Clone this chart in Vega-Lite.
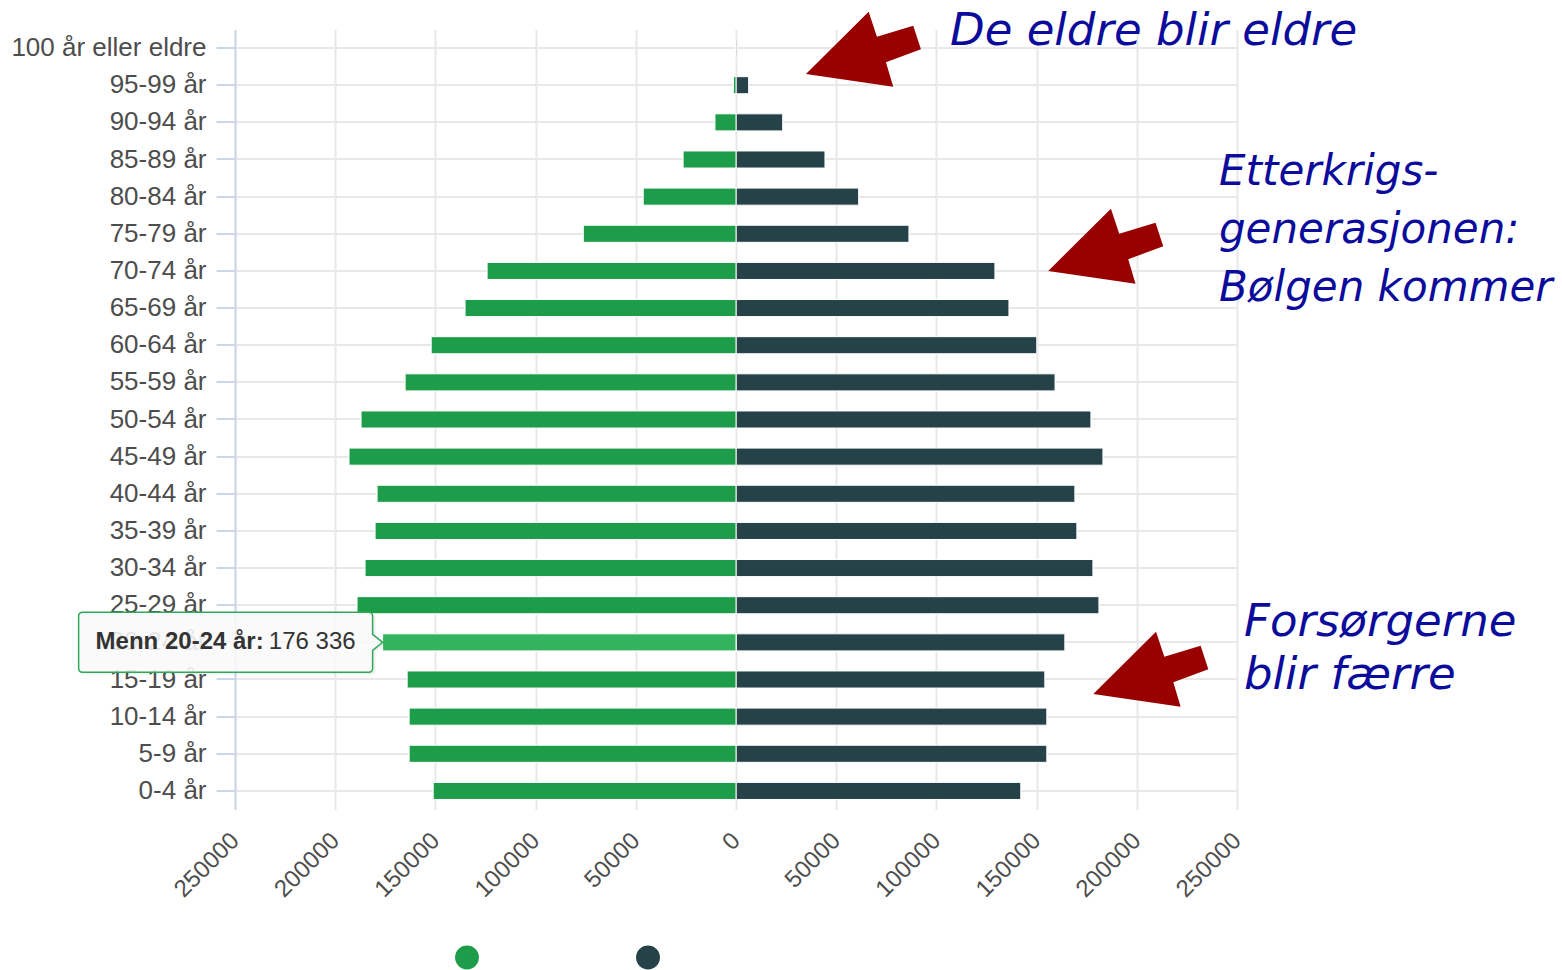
{
  "$schema": "https://vega.github.io/schema/vega-lite/v6.json",
  "width": 1002,
  "height": 780,
  "autosize": {"type": "none"},
  "padding": {"left": 235, "top": 29.5, "right": 325, "bottom": 160.5},
  "background": "white",
  "config": {
    "view": {"stroke": null},
    "font": "Liberation Sans",
    "locale": {"number": {"decimal": ",", "thousands": " ", "grouping": [3], "currency": ["", " kr"]}}
  },
  "datasets": {
    "befolkning": [
      {"alder": "100 år eller eldre", "kjonn": "Menn", "antall": 150},
      {"alder": "100 år eller eldre", "kjonn": "Kvinner", "antall": 700},
      {"alder": "95-99 år", "kjonn": "Menn", "antall": 1300},
      {"alder": "95-99 år", "kjonn": "Kvinner", "antall": 6300},
      {"alder": "90-94 år", "kjonn": "Menn", "antall": 10500},
      {"alder": "90-94 år", "kjonn": "Kvinner", "antall": 23300},
      {"alder": "85-89 år", "kjonn": "Menn", "antall": 26400},
      {"alder": "85-89 år", "kjonn": "Kvinner", "antall": 44400},
      {"alder": "80-84 år", "kjonn": "Menn", "antall": 46300},
      {"alder": "80-84 år", "kjonn": "Kvinner", "antall": 61200},
      {"alder": "75-79 år", "kjonn": "Menn", "antall": 76200},
      {"alder": "75-79 år", "kjonn": "Kvinner", "antall": 86300},
      {"alder": "70-74 år", "kjonn": "Menn", "antall": 124200},
      {"alder": "70-74 år", "kjonn": "Kvinner", "antall": 129200},
      {"alder": "65-69 år", "kjonn": "Menn", "antall": 135200},
      {"alder": "65-69 år", "kjonn": "Kvinner", "antall": 136200},
      {"alder": "60-64 år", "kjonn": "Menn", "antall": 152100},
      {"alder": "60-64 år", "kjonn": "Kvinner", "antall": 150100},
      {"alder": "55-59 år", "kjonn": "Menn", "antall": 165100},
      {"alder": "55-59 år", "kjonn": "Kvinner", "antall": 159200},
      {"alder": "50-54 år", "kjonn": "Menn", "antall": 187100},
      {"alder": "50-54 år", "kjonn": "Kvinner", "antall": 177100},
      {"alder": "45-49 år", "kjonn": "Menn", "antall": 193100},
      {"alder": "45-49 år", "kjonn": "Kvinner", "antall": 183100},
      {"alder": "40-44 år", "kjonn": "Menn", "antall": 179100},
      {"alder": "40-44 år", "kjonn": "Kvinner", "antall": 169100},
      {"alder": "35-39 år", "kjonn": "Menn", "antall": 180100},
      {"alder": "35-39 år", "kjonn": "Kvinner", "antall": 170100},
      {"alder": "30-34 år", "kjonn": "Menn", "antall": 185100},
      {"alder": "30-34 år", "kjonn": "Kvinner", "antall": 178100},
      {"alder": "25-29 år", "kjonn": "Menn", "antall": 189100},
      {"alder": "25-29 år", "kjonn": "Kvinner", "antall": 181100},
      {"alder": "20-24 år", "kjonn": "Menn", "antall": 176336},
      {"alder": "20-24 år", "kjonn": "Kvinner", "antall": 164100},
      {"alder": "15-19 år", "kjonn": "Menn", "antall": 164100},
      {"alder": "15-19 år", "kjonn": "Kvinner", "antall": 154100},
      {"alder": "10-14 år", "kjonn": "Menn", "antall": 163100},
      {"alder": "10-14 år", "kjonn": "Kvinner", "antall": 155100},
      {"alder": "5-9 år", "kjonn": "Menn", "antall": 163100},
      {"alder": "5-9 år", "kjonn": "Kvinner", "antall": 155100},
      {"alder": "0-4 år", "kjonn": "Menn", "antall": 151100},
      {"alder": "0-4 år", "kjonn": "Kvinner", "antall": 142100}
    ]
  },
  "encoding": {
    "y": {
      "field": "alder",
      "type": "nominal",
      "sort": ["100 år eller eldre", "95-99 år", "90-94 år", "85-89 år", "80-84 år", "75-79 år", "70-74 år", "65-69 år", "60-64 år", "55-59 år", "50-54 år", "45-49 år", "40-44 år", "35-39 år", "30-34 år", "25-29 år", "20-24 år", "15-19 år", "10-14 år", "5-9 år", "0-4 år"],
      "scale": {"paddingInner": 0.54, "paddingOuter": 0.27},
      "axis": {
        "title": null,
        "labelFontSize": 26,
        "labelColor": "#4d4d4d",
        "labelFont": "Liberation Sans",
        "labelLimit": 400,
        "tickColor": "#ccd6eb",
        "tickSize": 19,
        "tickWidth": 2,
        "domainColor": "#ccd6eb",
        "domainWidth": 2,
        "labelPadding": 10,
        "grid": true,
        "gridColor": "#e8e8e8",
        "gridWidth": 2,
        "bandPosition": 0.5
      }
    }
  },
  "layer": [
    {
      "layer": [
        {
          "data": {"name": "befolkning"},
          "transform": [{"filter": "datum.kjonn === 'Kvinner'"}],
          "mark": {"type": "bar", "stroke": "white", "strokeWidth": 1},
          "encoding": {
            "x": {
              "field": "antall",
              "type": "quantitative",
              "scale": {"domain": [-250000, 250000], "nice": false},
              "axis": {
                "title": null,
                "values": [-250000, -200000, -150000, -100000, -50000, 0, 50000, 100000, 150000, 200000, 250000],
                "labelExpr": "'' + abs(datum.value)",
                "labelAngle": -45,
                "labelAlign": "right",
                "labelBaseline": "middle",
                "labelFontSize": 24,
                "labelFont": "Liberation Sans",
                "labelColor": "#4d4d4d",
                "labelPadding": 27,
                "ticks": false,
                "domain": false,
                "grid": true,
                "gridColor": "#e8e8e8",
                "gridWidth": 2
              }
            },
            "color": {
              "field": "kjonn",
              "type": "nominal",
              "scale": {"domain": ["Menn", "Kvinner"], "range": ["#1d9c4a", "#264249"]},
              "legend": {
                "orient": "none",
                "legendX": 220,
                "legendY": 916,
                "direction": "horizontal",
                "title": null,
                "labelExpr": "''",
                "symbolType": "circle",
                "symbolSize": 570,
                "symbolStrokeWidth": 0,
                "columnPadding": 157,
                "labelOffset": 0,
                "padding": 0
              }
            }
          }
        },
        {
          "data": {"values": [{"x": 106800, "alder": "100 år eller eldre"}]},
          "mark": {"type": "text", "text": "De eldre blir eldre", "align": "left", "baseline": "alphabetic", "dy": -3, "font": "DejaVu Sans", "fontStyle": "italic", "fontSize": 45, "color": "#0c0c9c"},
          "encoding": {"x": {"field": "x", "type": "quantitative"}}
        },
        {
          "data": {"values": [{"x": 241000, "alder": "80-84 år"}]},
          "mark": {"type": "text", "text": ["Etterkrigs-", "generasjonen:", "Bølgen kommer"], "align": "left", "baseline": "alphabetic", "dy": -12, "lineHeight": 58, "font": "DejaVu Sans", "fontStyle": "italic", "fontSize": 42, "color": "#0c0c9c"},
          "encoding": {"x": {"field": "x", "type": "quantitative"}}
        },
        {
          "data": {"values": [{"x": 253500, "alder": "20-24 år"}]},
          "mark": {"type": "text", "text": ["Forsørgerne", "blir færre"], "align": "left", "baseline": "alphabetic", "dy": -6, "lineHeight": 53, "font": "DejaVu Sans", "fontStyle": "italic", "fontSize": 45, "color": "#0c0c9c"},
          "encoding": {"x": {"field": "x", "type": "quantitative"}}
        },
        {
          "data": {"values": [{"x": 34900, "alder": "95-99 år"}]},
          "mark": {"type": "point", "shape": "M0,0L62.7,-62.3L71,-37.3L107.3,-48.3L115,-24.7L80,-11.7L87.3,12.7Z", "size": 4, "filled": true, "opacity": 1, "color": "#990000", "strokeWidth": 0, "yOffset": -11.2},
          "encoding": {"x": {"field": "x", "type": "quantitative"}}
        },
        {
          "data": {"values": [{"x": 155800, "alder": "70-74 år"}]},
          "mark": {"type": "point", "shape": "M0,0L62.7,-62.3L71,-37.3L107.3,-48.3L115,-24.7L80,-11.7L87.3,12.7Z", "size": 4, "filled": true, "opacity": 1, "color": "#990000", "strokeWidth": 0, "yOffset": 0},
          "encoding": {"x": {"field": "x", "type": "quantitative"}}
        },
        {
          "data": {"values": [{"x": 178300, "alder": "15-19 år"}]},
          "mark": {"type": "point", "shape": "M0,0L62.7,-62.3L71,-37.3L107.3,-48.3L115,-24.7L80,-11.7L87.3,12.7Z", "size": 4, "filled": true, "opacity": 1, "color": "#990000", "strokeWidth": 0, "yOffset": 14.5},
          "encoding": {"x": {"field": "x", "type": "quantitative"}}
        }
      ]
    },
    {
      "data": {"name": "befolkning"},
      "transform": [{"filter": "datum.kjonn === 'Menn'"}],
      "encoding": {
        "x": {
          "field": "antall",
          "type": "quantitative",
          "scale": {"domain": [-250000, 250000], "nice": false, "reverse": true},
          "axis": null
        }
      },
      "layer": [
        {
          "mark": {"type": "bar", "stroke": "white", "strokeWidth": 1},
          "encoding": {
            "color": {
              "field": "kjonn",
              "type": "nominal",
              "scale": {"domain": ["Menn", "Kvinner"], "range": ["#1d9c4a", "#264249"]},
              "legend": {
                "orient": "none",
                "legendX": 220,
                "legendY": 916,
                "direction": "horizontal",
                "title": null,
                "labelExpr": "''",
                "symbolType": "circle",
                "symbolSize": 570,
                "symbolStrokeWidth": 0,
                "columnPadding": 157,
                "labelOffset": 0,
                "padding": 0
              }
            }
          }
        },
        {
          "transform": [{"filter": "datum.alder === '20-24 år'"}],
          "mark": {"type": "bar", "stroke": "white", "strokeWidth": 1, "color": "#34b35f"}
        },
        {
          "transform": [{"filter": "datum.alder === '20-24 år'"}],
          "mark": {"type": "point", "shape": "M-299,-28L-11,-28Q-7,-28 -7,-24L-7,-6L3,2L-7,10L-7,28Q-7,32 -11,32L-299,32Q-303,32 -303,28L-303,-24Q-303,-28 -299,-28Z", "size": 4, "filled": true, "opacity": 1, "fill": "#000000", "fillOpacity": 0.06, "strokeWidth": 0}
        },
        {
          "transform": [{"filter": "datum.alder === '20-24 år'"}],
          "mark": {"type": "point", "shape": "M-300,-30L-14,-30Q-10,-30 -10,-26L-10,-8L0,0L-10,8L-10,26Q-10,30 -14,30L-300,30Q-304,30 -304,26L-304,-26Q-304,-30 -300,-30Z", "size": 4, "filled": true, "opacity": 1, "fill": "#fbfbfb", "fillOpacity": 0.88, "stroke": "#2fa85a", "strokeWidth": 1.5}
        },
        {
          "transform": [{"filter": "datum.alder === '20-24 år'"}],
          "mark": {"type": "text", "text": "Menn 20-24 år:", "align": "left", "baseline": "middle", "dx": -287, "dy": 0, "fontSize": 24, "fontWeight": "bold", "font": "Liberation Sans", "color": "#333333"}
        },
        {
          "transform": [{"filter": "datum.alder === '20-24 år'"}],
          "mark": {"type": "text", "align": "right", "baseline": "middle", "dx": -27, "dy": 0, "fontSize": 24, "font": "Liberation Sans", "color": "#333333"},
          "encoding": {"text": {"field": "antall", "type": "quantitative", "format": ",d"}}
        }
      ]
    }
  ],
  "resolve": {"scale": {"x": "independent"}}
}
